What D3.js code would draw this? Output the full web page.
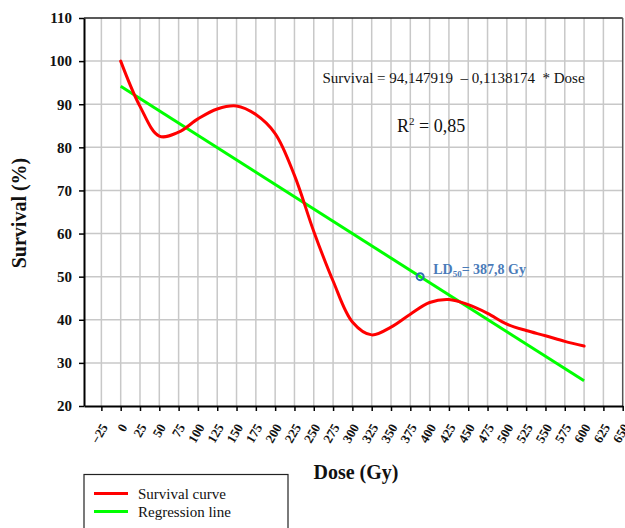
<!DOCTYPE html>
<html><head><meta charset="utf-8">
<script src="https://cdn.jsdelivr.net/npm/d3@7"></script>
<style>body{margin:0;background:#fff}svg{display:block}text{font-family:"Liberation Serif","Times New Roman",serif}</style>
</head><body>
<script>
const doses =    [0, 25, 50, 75, 100, 125, 150, 175, 200, 225, 250, 275, 300, 325, 350, 375, 400, 425, 450, 475, 500, 525, 550, 575, 600];
const survival = [100, 89.5, 82.6, 83.5, 86.6, 88.9, 89.6, 87.6, 83.2, 73.5, 60.5, 49, 39.5, 36.5, 38.3, 41.3, 44, 44.7, 43.5, 41.5, 39, 37.5, 36.3, 35, 33.9];
const intercept = 94.147919, slope = -0.1138174;
const regDoses = [0, 600];
const ld50 = [387.8, 50];
const xTicks = d3.range(-25, 651, 25);
const yTicks = [20, 30, 40, 50, 60, 70, 80, 90, 100, 110];
const legendItems = [["Survival curve", "#ff0000"], ["Regression line", "#00ff00"]];

const W = 625, H = 528;
const svg = d3.select("body").append("svg").attr("width", W).attr("height", H);
const x = d3.scaleLinear().domain([-47.5, 650]).range([84, 622.7]);
const y = d3.scaleLinear().domain([20, 110]).range([406, 18]);

// grid
svg.append("g").selectAll("line").data(xTicks.filter(d => d < 650)).join("line")
  .attr("x1", d => x(d)).attr("x2", d => x(d)).attr("y1", y(110)).attr("y2", y(20))
  .attr("stroke", "#c8c8c8").attr("stroke-width", 1.5);
svg.append("g").selectAll("line").data(yTicks.filter(d => d > 20 && d < 110)).join("line")
  .attr("x1", x(-47.5)).attr("x2", x(650)).attr("y1", d => y(d)).attr("y2", d => y(d))
  .attr("stroke", "#c8c8c8").attr("stroke-width", 1.5);

// frame
svg.append("line").attr("x1", x(-47.5)).attr("x2", x(650)).attr("y1", y(110)).attr("y2", y(110)).attr("stroke", "#222").attr("stroke-width", 1.5);
svg.append("line").attr("x1", x(650)).attr("x2", x(650)).attr("y1", y(110)).attr("y2", y(20)).attr("stroke", "#555").attr("stroke-width", 1.5);

// axes
const xAxis = svg.append("g").attr("transform", `translate(0,${y(20)})`)
  .call(d3.axisBottom(x).tickValues(xTicks).tickSize(5).tickSizeOuter(0).tickFormat(d3.format("d")));
xAxis.select(".domain").attr("stroke-width", 2);
xAxis.selectAll(".tick line").attr("stroke-width", 1.5);
xAxis.selectAll("text").attr("font-size", 13).attr("font-weight", "bold")
  .attr("text-anchor", "end").attr("dy", 0).attr("y", 0)
  .attr("transform", "translate(6.5,21) rotate(-60)");

const yAxis = svg.append("g").attr("transform", `translate(${x(-47.5)},0)`)
  .call(d3.axisLeft(y).tickValues(yTicks).tickSize(5).tickSizeOuter(0).tickPadding(7));
yAxis.select(".domain").attr("stroke-width", 2);
yAxis.selectAll(".tick line").attr("stroke-width", 1.5);
yAxis.selectAll("text").attr("font-size", 15).attr("font-weight", "bold");
svg.selectAll(".tick text").attr("fill", "#111");

// regression line
svg.append("path").datum(regDoses)
  .attr("d", d3.line().x(d => x(d)).y(d => y(intercept + slope * d)))
  .attr("stroke", "#00ff00").attr("stroke-width", 3).attr("fill", "none");

// survival curve
svg.append("path").datum(doses.map((d, i) => [d, survival[i]]))
  .attr("d", d3.line().x(d => x(d[0])).y(d => y(d[1])).curve(d3.curveCatmullRom.alpha(0.5)))
  .attr("stroke", "#ff0000").attr("stroke-width", 3).attr("fill", "none").attr("stroke-linecap", "round");

// LD50
svg.append("circle").attr("cx", x(ld50[0])).attr("cy", y(ld50[1])).attr("r", 3.5)
  .attr("fill", "none").attr("stroke", "#2f6db5").attr("stroke-width", 2);
const ldt = svg.append("text").attr("x", x(ld50[0]) + 13).attr("y", y(ld50[1]) - 3)
  .attr("font-size", 14).attr("font-weight", "bold").attr("fill", "#4a7bb9");
ldt.append("tspan").text("LD");
ldt.append("tspan").attr("font-size", 9).attr("dy", 3).text("50");
ldt.append("tspan").attr("dy", -3).text("= 387,8 Gy");

// equation
svg.append("text").attr("x", 322.5).attr("y", 83).attr("font-size", 15).attr("fill", "#111")
  .attr("xml:space", "preserve").text("Survival = 94,147919  \u2013 0,1138174  * Dose");
const r2 = svg.append("text").attr("x", 397).attr("y", 132).attr("font-size", 18).attr("fill", "#111");
r2.append("tspan").text("R");
r2.append("tspan").attr("font-size", 11).attr("dy", -7).text("2");
r2.append("tspan").attr("dy", 7).text(" = 0,85");

// axis titles
svg.append("text").attr("transform", "translate(26,213) rotate(-90)").attr("text-anchor", "middle")
  .attr("font-size", 20).attr("font-weight", "bold").attr("fill", "#111").text("Survival (%)");
svg.append("text").attr("x", 356).attr("y", 479).attr("text-anchor", "middle")
  .attr("font-size", 20).attr("font-weight", "bold").attr("fill", "#111").text("Dose (Gy)");

// legend
svg.append("rect").attr("x", 84).attr("y", 474.5).attr("width", 204).attr("height", 60)
  .attr("fill", "#fff").attr("stroke", "#222").attr("stroke-width", 1.2);
const lg = svg.append("g").selectAll("g").data(legendItems).join("g")
  .attr("transform", (d, i) => `translate(0,${493.5 + i * 18})`);
lg.append("line").attr("x1", 94).attr("x2", 128).attr("stroke", d => d[1]).attr("stroke-width", 3);
lg.append("text").attr("x", 138).attr("y", 5).attr("font-size", 15).attr("fill", "#111").text(d => d[0]);
</script>
</body></html>
